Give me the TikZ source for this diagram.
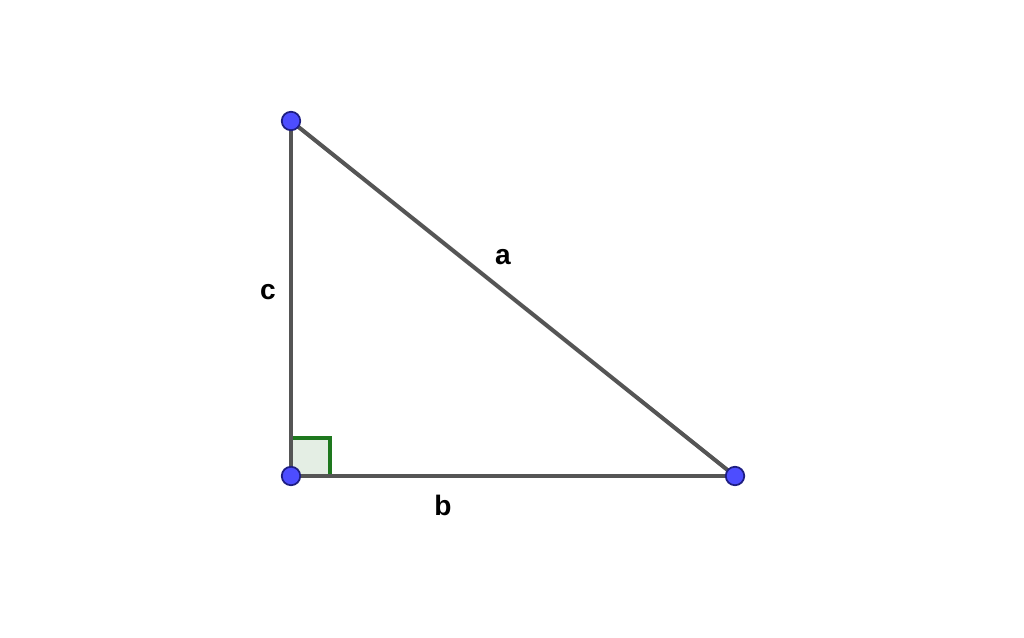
\documentclass[tikz,border=0pt]{standalone}
\usepackage[RGB]{xcolor}
\usepackage{fontspec}
\setmainfont{Liberation Sans}
\usepackage{tikz}
\definecolor{side}{RGB}{85,85,85}
\definecolor{ptfill}{RGB}{77,77,255}
\definecolor{ptline}{RGB}{30,30,130}
\definecolor{angleline}{RGB}{30,120,30}
\definecolor{anglefill}{RGB}{228,238,228}
\newcommand{\drawside}{\draw[side,line width=2.3pt]}
\newcommand{\sidelabel}[3]{\node[font=\fontsize{16}{19}\selectfont\bfseries] (#1) at (#2) {#3};}
\tikzset{
  vertex/.style={circle,draw=ptline,fill=ptfill,line width=1pt,minimum size=0.37cm,inner sep=0pt},
}

\begin{document}
\begin{tikzpicture}[x=0.02cm,y=-0.02cm]
\useasboundingbox (0,0) rectangle (1024,638);
\coordinate (C) at (291,121);
    \coordinate (A) at (291,476);
    \coordinate (B) at (735,476);
    \filldraw[draw=angleline,fill=anglefill,line width=2pt] (A) rectangle ++(39,-38);
    \drawside (C)--(A);
    \drawside (A)--(B);
    \drawside (B)--(C);
\node[vertex] (pC) at (C) {};\node[vertex] (pA) at (A) {};\node[vertex] (pB) at (B) {};
\sidelabel{la}{503,257}{a}\sidelabel{lb}{443,505}{b}\sidelabel{lc}{268,292}{c}\end{tikzpicture}
\end{document}
